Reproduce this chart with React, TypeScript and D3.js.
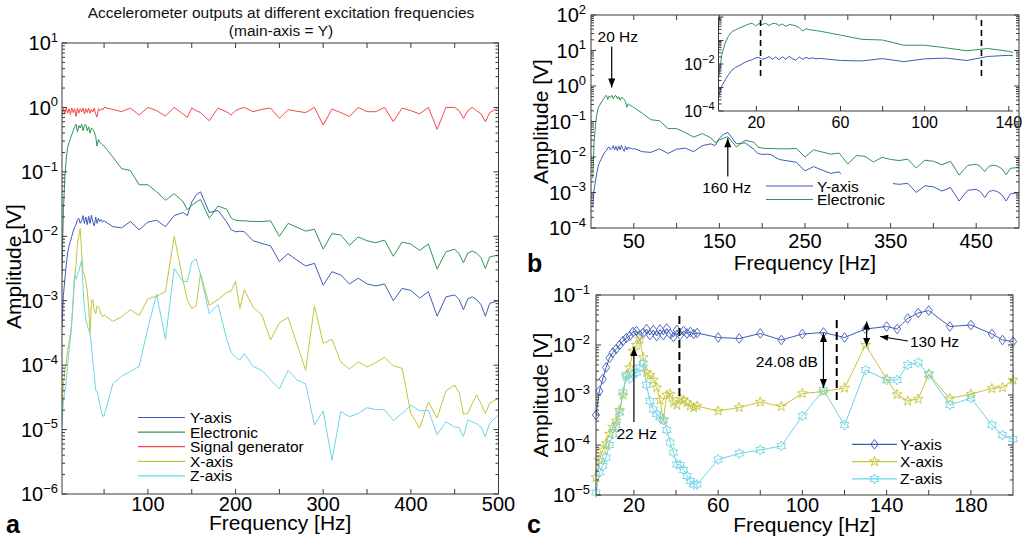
import React from "react";
import * as d3 from "d3";

// Shared excitation frequencies [Hz]
const FREQ = [2, 3.6, 5.2, 6.8, 8.4, 10, 11.6, 13.2, 14.8, 16.4, 18, 19.6, 21.2, 22.8, 24.4, 26, 27.6, 29.2, 30.8, 32.4, 34, 35.6, 37.2, 38.8, 40.4, 42, 43.6, 45.2, 46.8, 48.4, 50,
  60, 70, 80, 90, 100, 110, 120, 130, 140, 145, 150, 155, 160, 170, 180, 190, 195, 200,
  205, 210, 220, 230, 240, 250, 260, 270, 280, 290, 300, 310, 320, 330, 340, 350, 360, 370, 380, 390, 400, 410, 420, 430, 440, 450,
  455, 460, 465, 470, 475, 480, 485, 490, 500];

// log10 of amplitude [V]
const Y_AXIS_LOG = [-3.4, -2.92, -2.68, -2.45, -2.26, -2.15, -2.08, -2.0, -1.92, -1.86, -1.82, -1.74, -1.72, -1.8, -1.76, -1.68, -1.8, -1.7, -1.82, -1.69, -1.8, -1.67, -1.78, -1.84, -1.7, -1.8, -1.72, -1.77, -1.74, -1.78, -1.76,
  -1.85, -1.87, -1.77, -1.9, -1.78, -1.75, -1.85, -1.68, -1.63, -1.68, -1.47, -1.36, -1.31, -1.63, -1.6, -1.78, -1.9, -1.93,
  -1.92, -1.93, -2.07, -2.11, -2.15, -2.39, -2.27, -2.37, -2.46, -2.42, -2.76, -2.55, -2.6, -2.74, -2.65, -2.74, -2.77, -2.74, -3.0, -2.81, -2.84, -2.96, -2.86, -3.24, -2.94, -2.91,
  -2.98, -3.14, -2.97, -2.94, -2.98, -3.06, -3.24, -3.04, -3.0];

const ELECTRONIC_LOG = [-2.6, -1.6, -1.1, -0.8, -0.62, -0.55, -0.48, -0.42, -0.36, -0.3, -0.26, -0.38, -0.28, -0.32, -0.26, -0.36, -0.28, -0.27, -0.36, -0.3, -0.4, -0.32, -0.34, -0.38, -0.45, -0.6, -0.5, -0.54, -0.56, -0.58, -0.6,
  -0.77, -0.95, -0.98, -1.2, -1.2, -1.31, -1.44, -1.34, -1.46, -1.59, -1.52, -1.47, -1.43, -1.72, -1.53, -1.58, -1.72, -1.75,
  -1.76, -1.76, -1.77, -1.77, -1.76, -2.0, -1.8, -1.86, -1.92, -1.89, -2.2, -1.96, -1.98, -2.14, -2.01, -2.07, -2.1, -2.06, -2.31, -2.09, -2.12, -2.22, -2.12, -2.51, -2.24, -2.2,
  -2.27, -2.41, -2.26, -2.23, -2.26, -2.33, -2.5, -2.32, -2.29];

const SIGGEN_LOG = [-0.12, -0.02, -0.1, -0.01, -0.09, -0.02, -0.11, -0.01, -0.08, -0.02, -0.14, -0.01, -0.09, -0.02, -0.07, -0.01, -0.1, -0.02, -0.08, -0.01, -0.09, -0.03, -0.07, -0.01, -0.1, -0.15, -0.02, -0.05, -0.02, -0.04, 0.0,
  -0.03, -0.066, -0.01, -0.117, 0.0, -0.05, -0.133, 0.0, -0.1, -0.153, -0.01, -0.05, -0.08, -0.206, -0.01, -0.07, -0.117, -0.05,
  -0.02, 0.0, -0.066, -0.03, -0.01, -0.17, -0.035, -0.06, -0.08, 0.0, -0.273, -0.025, -0.08, -0.14, 0.0, -0.066, -0.066, 0.0, -0.22, -0.01, -0.05, -0.1, 0.0, -0.34, 0.0, 0.0,
  -0.05, -0.17, -0.05, 0.0, -0.05, -0.1, -0.22, -0.08, 0.0];

const X_AXIS_LOG = [-4.65, -4.3, -4.1, -3.97, -3.78, -3.64, -3.52, -3.3, -3.0, -2.62, -2.45, -2.12, -2.0, -1.88, -2.25, -2.55, -2.6, -2.7, -2.85, -3.1, -3.5, -3.0, -2.98, -3.15, -3.2, -3.08, -3.1, -3.15, -3.22, -3.25, -3.22,
  -3.32, -3.25, -3.14, -3.23, -2.97, -2.93, -2.86, -2.0, -2.68, -2.99, -3.12, -3.08, -2.58, -3.07, -2.98, -2.87, -2.85, -2.7,
  -3.12, -2.83, -3.1, -3.22, -3.61, -3.34, -3.26, -3.67, -4.08, -3.08, -3.66, -3.6, -3.95, -4.06, -3.95, -4.03, -3.96, -3.88, -4.01, -4.05, -4.75, -4.98, -4.57, -4.82, -4.4, -4.31,
  -4.42, -4.76, -4.75, -4.6, -4.46, -4.6, -4.75, -4.59, -4.51];

const Z_AXIS_LOG = [-4.95, -4.55, -4.42, -4.25, -4.0, -3.78, -3.6, -3.35, -2.95, -2.6, -2.67, -2.59, -2.55, -2.45, -2.37, -2.8, -3.12, -3.29, -3.38, -3.45, -3.5, -3.7, -3.95, -4.15, -4.39, -4.4, -4.5, -4.62, -4.72, -4.79, -4.79,
  -4.29, -4.17, -4.1, -4.02, -3.42, -2.9, -3.6, -2.5, -2.7, -2.7, -2.4, -2.35, -2.59, -3.2, -3.06, -3.6, -3.8, -3.88,
  -3.92, -3.82, -4.02, -4.08, -4.23, -4.37, -4.08, -4.23, -4.29, -4.93, -4.71, -5.48, -4.72, -4.8, -4.75, -4.66, -4.69, -4.69, -4.86, -4.75, -4.62, -4.71, -4.7, -5.08, -4.88, -4.96,
  -4.97, -5.11, -4.85, -4.88, -4.91, -4.96, -5.11, -4.9, -4.77];

const SERIES_NAMES = ["Y-axis", "Electronic", "Signal generator", "X-axis", "Z-axis"];
const COLORS = ["#3f5cb8", "#2f9455", "#f24848", "#c4c43a", "#6dd5e5"];
const LOGS = [Y_AXIS_LOG, ELECTRONIC_LOG, SIGGEN_LOG, X_AXIS_LOG, Z_AXIS_LOG];

const A_XTICKS = [50, 100, 150, 200, 250, 300, 350, 400, 450, 500];
const A_XLABELS = [100, 200, 300, 400, 500];
const B_XTICKS = [50, 100, 150, 200, 250, 300, 350, 400, 450];
const B_XLABELS = [50, 150, 250, 350, 450];
const C_XTICKS = [20, 40, 60, 80, 100, 120, 140, 160, 180];
const C_XLABELS = [20, 60, 100, 140, 180];
const INSET_XTICKS = [20, 40, 60, 80, 100, 120, 140];
const INSET_XLABELS = [20, 60, 100, 140];

const FONT = "'Liberation Sans', Arial, Helvetica, sans-serif";
const AXC = "#3a3a3a";

type P = [number, number];
const seriesPts = (i: number): P[] => FREQ.map((f, k) => [f, Math.pow(10, LOGS[i][k])]);
const sup = (e: number) => (e < 0 ? `\u2212${-e}` : `${e}`);

function LogYAxis({ ys, left, right, lo, hi, labels, labelX, fs, sfs, inward = 1 }: any) {
  const els: any[] = [];
  for (let e = lo; e <= hi; e++) {
    const y = ys(Math.pow(10, e));
    els.push(<line key={"L" + e} x1={left} x2={left + 5 * inward} y1={y} y2={y} />);
    if (right != null) els.push(<line key={"R" + e} x1={right} x2={right - 5} y1={y} y2={y} />);
    if (e < hi) {
      for (let m = 2; m <= 9; m++) {
        const yy = ys(m * Math.pow(10, e));
        els.push(<line key={"l" + e + m} x1={left} x2={left + 3 * inward} y1={yy} y2={yy} />);
        if (right != null) els.push(<line key={"r" + e + m} x1={right} x2={right - 3} y1={yy} y2={yy} />);
      }
    }
    if (labels.includes(e)) {
      els.push(
        <text key={"t" + e} x={labelX} y={y + fs * 0.36} textAnchor="end" fontSize={fs} stroke="none" fill="#000">
          10<tspan dy={-fs * 0.42} fontSize={sfs}>{sup(e)}</tspan>
        </text>
      );
    }
  }
  return <g stroke={AXC} strokeWidth={1}>{els}</g>;
}

function XAxisTicks({ xs, bottom, top, ticks, labels, labelY, fs }: any) {
  return (
    <g stroke={AXC} strokeWidth={1}>
      {ticks.map((t: number) => (
        <g key={t}>
          <line x1={xs(t)} x2={xs(t)} y1={bottom} y2={bottom - 5} />
          {top != null && <line x1={xs(t)} x2={xs(t)} y1={top} y2={top + 5} />}
        </g>
      ))}
      {labels.map((t: number) => (
        <text key={"t" + t} x={xs(t)} y={labelY} textAnchor="middle" fontSize={fs} stroke="none" fill="#000">{t}</text>
      ))}
    </g>
  );
}

function Arrow({ x1, y1, x2, y2, both = false, head = 9, w = 3.5 }: any) {
  const a = Math.atan2(y2 - y1, x2 - x1);
  const mk = (x: number, y: number, ang: number) => {
    const bx = x - head * Math.cos(ang), by = y - head * Math.sin(ang);
    const px = -Math.sin(ang) * w, py = Math.cos(ang) * w;
    return `M${x},${y}L${bx + px},${by + py}L${bx - px},${by - py}Z`;
  };
  return (
    <g>
      <line x1={x1} y1={y1} x2={x2} y2={y2} stroke="#000" strokeWidth={1.2} />
      <path d={mk(x2, y2, a)} fill="#000" />
      {both && <path d={mk(x1, y1, a + Math.PI)} fill="#000" />}
    </g>
  );
}

function starPath(n: number, r: number, ri: number) {
  const pts: string[] = [];
  for (let i = 0; i < 2 * n; i++) {
    const rr = i % 2 === 0 ? r : ri;
    const ang = -Math.PI / 2 + (i * Math.PI) / n;
    pts.push(`${(rr * Math.cos(ang)).toFixed(2)},${(rr * Math.sin(ang)).toFixed(2)}`);
  }
  return "M" + pts.join("L") + "Z";
}
const DIAMOND = "M0,-4.8L3.6,0L0,4.8L-3.6,0Z";
const PENTA = starPath(5, 5.2, 2.1);
const HEXA = starPath(6, 5, 2.9);

export default function App() {
  const W = 1024, H = 539;
  // Panel a
  const aL = 62, aR = 498.5, aT = 43, aB = 494;
  const ax = d3.scaleLinear().domain([2, 500]).range([aL, aR]);
  const ay = d3.scaleLog().domain([1e-6, 1e1]).range([aB, aT]);
  const aLine = d3.line<P>().x((d) => ax(d[0])).y((d) => ay(d[1]));
  // Panel b
  const bL = 591, bR = 1019, bT = 15, bB = 228;
  const bx = d3.scaleLinear().domain([0, 500]).range([bL, bR]);
  const by = d3.scaleLog().domain([1e-4, 1e2]).range([bB, bT]);
  const bLine = d3.line<P>().x((d) => bx(d[0])).y((d) => by(d[1]));
  // Inset
  const iL = 718.5, iR = 1013, iT = 17, iB = 111;
  const ix = d3.scaleLinear().domain([2, 142]).range([iL, iR]);
  const iy = d3.scaleLog().domain([1e-4, 1]).range([iB, iT]);
  const iLine = d3.line<P>().x((d) => ix(d[0])).y((d) => iy(d[1]));
  // Panel c
  const cL = 596, cR = 1013, cT = 295, cB = 495;
  const cx = d3.scaleLinear().domain([2, 200]).range([cL, cR]);
  const cy = d3.scaleLog().domain([1e-5, 1e-1]).range([cB, cT]);
  const cLine = d3.line<P>().x((d) => cx(d[0])).y((d) => cy(d[1]));

  const all = SERIES_NAMES.map((_, i) => seriesPts(i));
  const cSeries = [0, 3, 4];
  const cMarkers = [DIAMOND, PENTA, HEXA];
  const P10 = (v: number) => Math.pow(10, v);

  return (
    <svg width={W} height={H} style={{ position: "absolute", left: 0, top: 0, background: "#fff" }} fontFamily={FONT}>
      <defs>
        <clipPath id="clipA"><rect x={aL} y={aT} width={aR - aL} height={aB - aT} /></clipPath>
        <clipPath id="clipB"><rect x={bL} y={bT} width={bR - bL} height={bB - bT} /></clipPath>
        <clipPath id="clipI"><rect x={iL} y={iT} width={iR - iL} height={iB - iT} /></clipPath>
        <clipPath id="clipC"><rect x={cL - 5} y={cT - 5} width={cR - cL + 10} height={cB - cT + 10} /></clipPath>
        <clipPath id="clipC2"><rect x={cL} y={cT} width={cR - cL} height={cB - cT} /></clipPath>
      </defs>
      <rect x={0} y={0} width={W} height={H} fill="#fff" />

      {/* ================= Panel a ================= */}
      <text x={281} y={18} textAnchor="middle" fontSize={15.5} fill="#111">Accelerometer outputs at different excitation frequencies</text>
      <text x={281} y={36} textAnchor="middle" fontSize={15.5} fill="#111">(main-axis = Y)</text>
      <g clipPath="url(#clipA)" fill="none" strokeWidth={1}>
        {all.map((pts, i) => (
          <path key={i} d={aLine(pts) || ""} stroke={COLORS[i]} />
        ))}
      </g>
      <rect x={aL} y={aT} width={aR - aL} height={aB - aT} fill="none" stroke={AXC} strokeWidth={1} />
      <LogYAxis ys={ay} left={aL} right={aR} lo={-6} hi={1} labels={[-6, -5, -4, -3, -2, -1, 0, 1]} labelX={aL - 4} fs={20} sfs={13} />
      <XAxisTicks xs={ax} bottom={aB} top={aT} ticks={A_XTICKS} labels={A_XLABELS} labelY={aB + 17} fs={20} />
      <text x={(aL + aR) / 2} y={530} textAnchor="middle" fontSize={21}>Frequency [Hz]</text>
      <text transform={`translate(21,${(aT + aB) / 2 - 2}) rotate(-90)`} textAnchor="middle" fontSize={21}>Amplitude [V]</text>
      <text x={6} y={533} fontSize={25} fontWeight="bold">a</text>
      <g fontSize={15.5}>
        {SERIES_NAMES.map((n, i) => (
          <g key={n}>
            <line x1={138} x2={185} y1={417.5 + i * 14.6} y2={417.5 + i * 14.6} stroke={COLORS[i]} strokeWidth={1.2} />
            <text x={190} y={417.5 + i * 14.6 + 5.5}>{n}</text>
          </g>
        ))}
      </g>

      {/* ================= Panel b ================= */}
      <g clipPath="url(#clipB)" fill="none" strokeWidth={1}>
        <path d={bLine(all[0]) || ""} stroke={COLORS[0]} />
        <path d={bLine(all[1]) || ""} stroke={COLORS[1]} />
      </g>
      {/* legend b (opaque) */}
      <rect x={758} y={174} width={135} height={34} fill="#fff" />
      <g fontSize={15.5}>
        {[0, 1].map((i, k) => (
          <g key={i}>
            <line x1={766} x2={813} y1={186 + k * 13.5} y2={186 + k * 13.5} stroke={COLORS[i]} strokeWidth={1.2} />
            <text x={817} y={186 + k * 13.5 + 5.5}>{SERIES_NAMES[i]}</text>
          </g>
        ))}
      </g>
      {/* annotations b */}
      <Arrow x1={bx(24.2)} y1={by(P10(1.11))} x2={bx(24.2)} y2={by(P10(-0.04))} />
      <text x={bx(31.3)} y={by(P10(1.24))} textAnchor="middle" fontSize={15.5}>20 Hz</text>
      <Arrow x1={bx(159.8)} y1={by(P10(-2.55))} x2={bx(159.8)} y2={by(P10(-1.47))} />
      <text x={bx(158.6)} y={by(P10(-3.01))} textAnchor="middle" fontSize={15.5}>160 Hz</text>

      {/* inset */}
      <rect x={iL} y={iT} width={iR - iL} height={iB - iT} fill="#fff" />
      <g clipPath="url(#clipI)" fill="none" strokeWidth={1}>
        <path d={iLine(all[0].filter((d) => d[0] <= 145)) || ""} stroke={COLORS[0]} />
        <path d={iLine(all[1].filter((d) => d[0] <= 145)) || ""} stroke={COLORS[1]} />
      </g>
      <g stroke="#000" strokeWidth={1.6} strokeDasharray="6,4">
        {[22, 127].map((f) => (
          <line key={f} x1={ix(f)} x2={ix(f)} y1={iy(P10(-0.13))} y2={iy(P10(-2.6))} />
        ))}
      </g>
      <line x1={iL} x2={iL} y1={iT} y2={iB} stroke={AXC} />
      <line x1={iL} x2={iR} y1={iB} y2={iB} stroke={AXC} />
      <LogYAxis ys={iy} left={iL} right={null} lo={-4} hi={0} labels={[-4, -2]} labelX={iL - 4} fs={16} sfs={11} />
      <XAxisTicks xs={ix} bottom={iB} top={null} ticks={INSET_XTICKS} labels={INSET_XLABELS} labelY={iB + 17} fs={16} />

      <rect x={bL} y={bT} width={bR - bL} height={bB - bT} fill="none" stroke={AXC} strokeWidth={1} />
      <LogYAxis ys={by} left={bL} right={bR} lo={-4} hi={2} labels={[-4, -3, -2, -1, 0, 1, 2]} labelX={bL - 5} fs={20} sfs={13} />
      <XAxisTicks xs={bx} bottom={bB} top={bT} ticks={B_XTICKS} labels={B_XLABELS} labelY={bB + 20} fs={20} />
      <text x={(bL + bR) / 2} y={270} textAnchor="middle" fontSize={21}>Frequency [Hz]</text>
      <text transform={`translate(548,${(bT + bB) / 2}) rotate(-90)`} textAnchor="middle" fontSize={21}>Amplitude [V]</text>
      <text x={527} y={272} fontSize={25} fontWeight="bold">b</text>

      {/* ================= Panel c ================= */}
      <g clipPath="url(#clipC2)" fill="none" strokeWidth={1}>
        {cSeries.map((si) => (
          <path key={si} d={cLine(all[si].filter((d) => d[0] <= 205)) || ""} stroke={COLORS[si]} />
        ))}
      </g>
      <g clipPath="url(#clipC)" fill="none" strokeWidth={0.9}>
        {cSeries.map((si, k) =>
          all[si]
            .filter((d) => d[0] <= 200)
            .map((d, j) => (
              <path key={si + "-" + j} d={cMarkers[k]} transform={`translate(${cx(d[0])},${cy(d[1])})`} stroke={COLORS[si]} />
            ))
        )}
      </g>
      {/* dashed markers */}
      <g stroke="#000" strokeWidth={2} strokeDasharray="8,4">
        <line x1={cx(41.6)} x2={cx(41.6)} y1={cy(P10(-1.42))} y2={cy(P10(-3.1))} />
        <line x1={cx(116.3)} x2={cx(116.3)} y1={cy(P10(-1.5))} y2={cy(P10(-3.16))} />
      </g>
      {/* annotations c */}
      <Arrow x1={cx(20)} y1={cy(P10(-3.54))} x2={cx(20)} y2={cy(P10(-2.04))} />
      <text x={cx(21.3)} y={cy(P10(-3.87))} textAnchor="middle" fontSize={15.5}>22 Hz</text>
      <Arrow x1={cx(110)} y1={cy(P10(-1.76))} x2={cx(110)} y2={cy(P10(-2.86))} both />
      <text x={cx(92.6)} y={cy(P10(-2.44))} textAnchor="middle" fontSize={15.5}>24.08 dB</text>
      <Arrow x1={cx(130.5)} y1={cy(P10(-1.53))} x2={cx(130.5)} y2={cy(P10(-2.02))} both head={8} />
      <Arrow x1={cx(150.1)} y1={cy(P10(-1.92))} x2={cx(136.9)} y2={cy(P10(-1.83))} head={8} w={3} />
      <text x={cx(151.1)} y={cy(P10(-2.04))} fontSize={15.5}>130 Hz</text>

      <rect x={cL} y={cT} width={cR - cL} height={cB - cT} fill="none" stroke={AXC} strokeWidth={1} />
      <LogYAxis ys={cy} left={cL} right={cR} lo={-5} hi={-1} labels={[-5, -4, -3, -2, -1]} labelX={cL - 6} fs={20} sfs={13} />
      <XAxisTicks xs={cx} bottom={cB} top={cT} ticks={C_XTICKS} labels={C_XLABELS} labelY={cB + 17} fs={20} />
      <g fontSize={15.5}>
        {cSeries.map((si, k) => (
          <g key={si}>
            <line x1={852} x2={897} y1={444.3 + k * 17.3} y2={444.3 + k * 17.3} stroke={COLORS[si]} strokeWidth={1.2} />
            <path d={cMarkers[k]} transform={`translate(874.5,${444.3 + k * 17.3})`} fill="none" stroke={COLORS[si]} />
            <text x={900} y={444.3 + k * 17.3 + 5.5}>{SERIES_NAMES[si]}</text>
          </g>
        ))}
      </g>
      <text x={(cL + cR) / 2} y={532} textAnchor="middle" fontSize={21}>Frequency [Hz]</text>
      <text transform={`translate(548,${(cT + cB) / 2}) rotate(-90)`} textAnchor="middle" fontSize={21}>Amplitude [V]</text>
      <text x={527} y={533} fontSize={25} fontWeight="bold">c</text>
    </svg>
  );
}
